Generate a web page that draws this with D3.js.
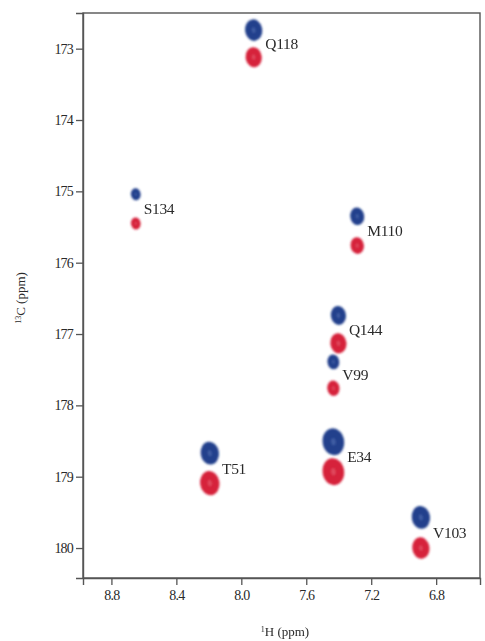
<!DOCTYPE html>
<html>
<head>
<meta charset="utf-8">
<script src="https://cdn.jsdelivr.net/npm/d3@7"></script>
<style>
  html, body { margin: 0; padding: 0; background: #fff; }
  svg { display: block; }
</style>
</head>
<body>
<svg id="chart" width="485" height="641"></svg>
<script>
// Residue assignments for the 1H-13C correlation peaks
const residues = ["Q118", "S134", "M110", "Q144", "V99", "E34", "T51", "V103"];

// 1H chemical shifts (ppm)
const hShift = [7.924, 8.650, 7.286, 7.402, 7.433, 7.433, 8.194, 6.894];

// 13C chemical shifts (ppm), first spectrum (blue) and second spectrum (red)
const cShiftBlue = [172.74, 175.04, 175.35, 176.74, 177.39, 178.51, 178.67, 179.57];
const cShiftRed  = [173.12, 175.45, 175.76, 177.13, 177.76, 178.93, 179.09, 180.00];

// Relative peak intensities
const intensityBlue = [0.80, 0.45, 0.65, 0.70, 0.55, 1.00, 0.85, 0.85];
const intensityRed  = [0.75, 0.45, 0.62, 0.75, 0.57, 1.00, 0.90, 0.80];

// Axis ranges and tick values
const hRange = [8.975, 6.53];
const cRange = [172.5, 180.42];
const hTicks = [8.8, 8.4, 8.0, 7.6, 7.2, 6.8];
const cTicks = [173, 174, 175, 176, 177, 178, 179, 180];

const serif = '"Liberation Serif", "DejaVu Serif", serif';
const ink = "#2a2a2a";

const svg = d3.select("#chart");
const plot = { left: 83, right: 480, top: 13, bottom: 578 };

const x = d3.scaleLinear().domain(hRange).range([plot.left, plot.right]);
const y = d3.scaleLinear().domain(cRange).range([plot.top, plot.bottom]);
const ry = d3.scaleLinear().domain([0, 1]).range([0, 13.5]);
const aspect = 0.8;

const defs = svg.append("defs");
defs.append("filter").attr("id", "soft")
  .attr("x", "-30%").attr("y", "-30%").attr("width", "160%").attr("height", "160%")
  .append("feGaussianBlur").attr("stdDeviation", 0.8);

// frame
svg.append("rect")
  .attr("x", plot.left).attr("y", plot.top)
  .attr("width", plot.right - plot.left).attr("height", plot.bottom - plot.top)
  .attr("fill", "none").attr("stroke", "#555").attr("stroke-width", 1.4);

// axes
const xAxis = svg.append("g")
  .attr("transform", `translate(0,${plot.bottom})`)
  .call(d3.axisBottom(x).tickValues(hTicks).tickFormat(d3.format(".1f")).tickSize(7).tickPadding(5));
const yAxis = svg.append("g")
  .attr("transform", `translate(${plot.left},0)`)
  .call(d3.axisLeft(y).tickValues(cTicks).tickFormat(d3.format("d")).tickSize(7).tickPadding(3));
[xAxis, yAxis].forEach(g => {
  g.attr("font-family", serif).attr("font-size", 14);
  g.select(".domain").attr("stroke", "#555").attr("stroke-width", 1.4);
  g.selectAll(".tick line").attr("stroke", "#555").attr("stroke-width", 1.3);
  g.selectAll(".tick text").attr("fill", ink).attr("letter-spacing", "-0.8");
});

// peaks
const peaks = [];
residues.forEach((r, i) => {
  peaks.push({ h: hShift[i], c: cShiftBlue[i], I: intensityBlue[i], dark: "#213f8c", light: "#5d78b8" });
  peaks.push({ h: hShift[i], c: cShiftRed[i], I: intensityRed[i], dark: "#d6203a", light: "#ea6b7b" });
});

const pg = svg.append("g").attr("filter", "url(#soft)");
const peakG = pg.selectAll("g.peak").data(peaks).join("g")
  .attr("class", "peak")
  .attr("transform", d => `translate(${x(d.h)},${y(d.c)}) rotate(-8)`);
peakG.append("ellipse")
  .attr("rx", d => ry(d.I) * aspect).attr("ry", d => ry(d.I))
  .attr("fill", d => d.dark);
peakG.append("ellipse")
  .attr("rx", d => ry(d.I) * aspect * 0.2).attr("ry", d => ry(d.I) * 0.26)
  .attr("fill", d => d.light).attr("opacity", 0.55);

// residue labels
svg.selectAll("text.res").data(residues).join("text")
  .attr("class", "res")
  .attr("font-family", serif).attr("font-size", 15.5).attr("fill", ink)
  .attr("letter-spacing", "-0.3")
  .attr("x", (d, i) => x(hShift[i]) + ry(intensityBlue[i]) * aspect + 3)
  .attr("y", (d, i) => y((cShiftBlue[i] + cShiftRed[i]) / 2))
  .attr("dy", "0.35em")
  .text(d => d);

// axis titles
const xt = svg.append("text")
  .attr("font-family", serif).attr("font-size", 13).attr("fill", ink)
  .attr("x", 285).attr("y", 636).attr("text-anchor", "middle");
xt.append("tspan").attr("baseline-shift", "super").attr("font-size", 8).text("1");
xt.append("tspan").text("H (ppm)");

const yt = svg.append("text")
  .attr("font-family", serif).attr("font-size", 13).attr("fill", ink)
  .attr("transform", "translate(25,298) rotate(-90)")
  .attr("text-anchor", "middle");
yt.append("tspan").attr("baseline-shift", "super").attr("font-size", 8).text("13");
yt.append("tspan").text("C (ppm)");
</script>
</body>
</html>
